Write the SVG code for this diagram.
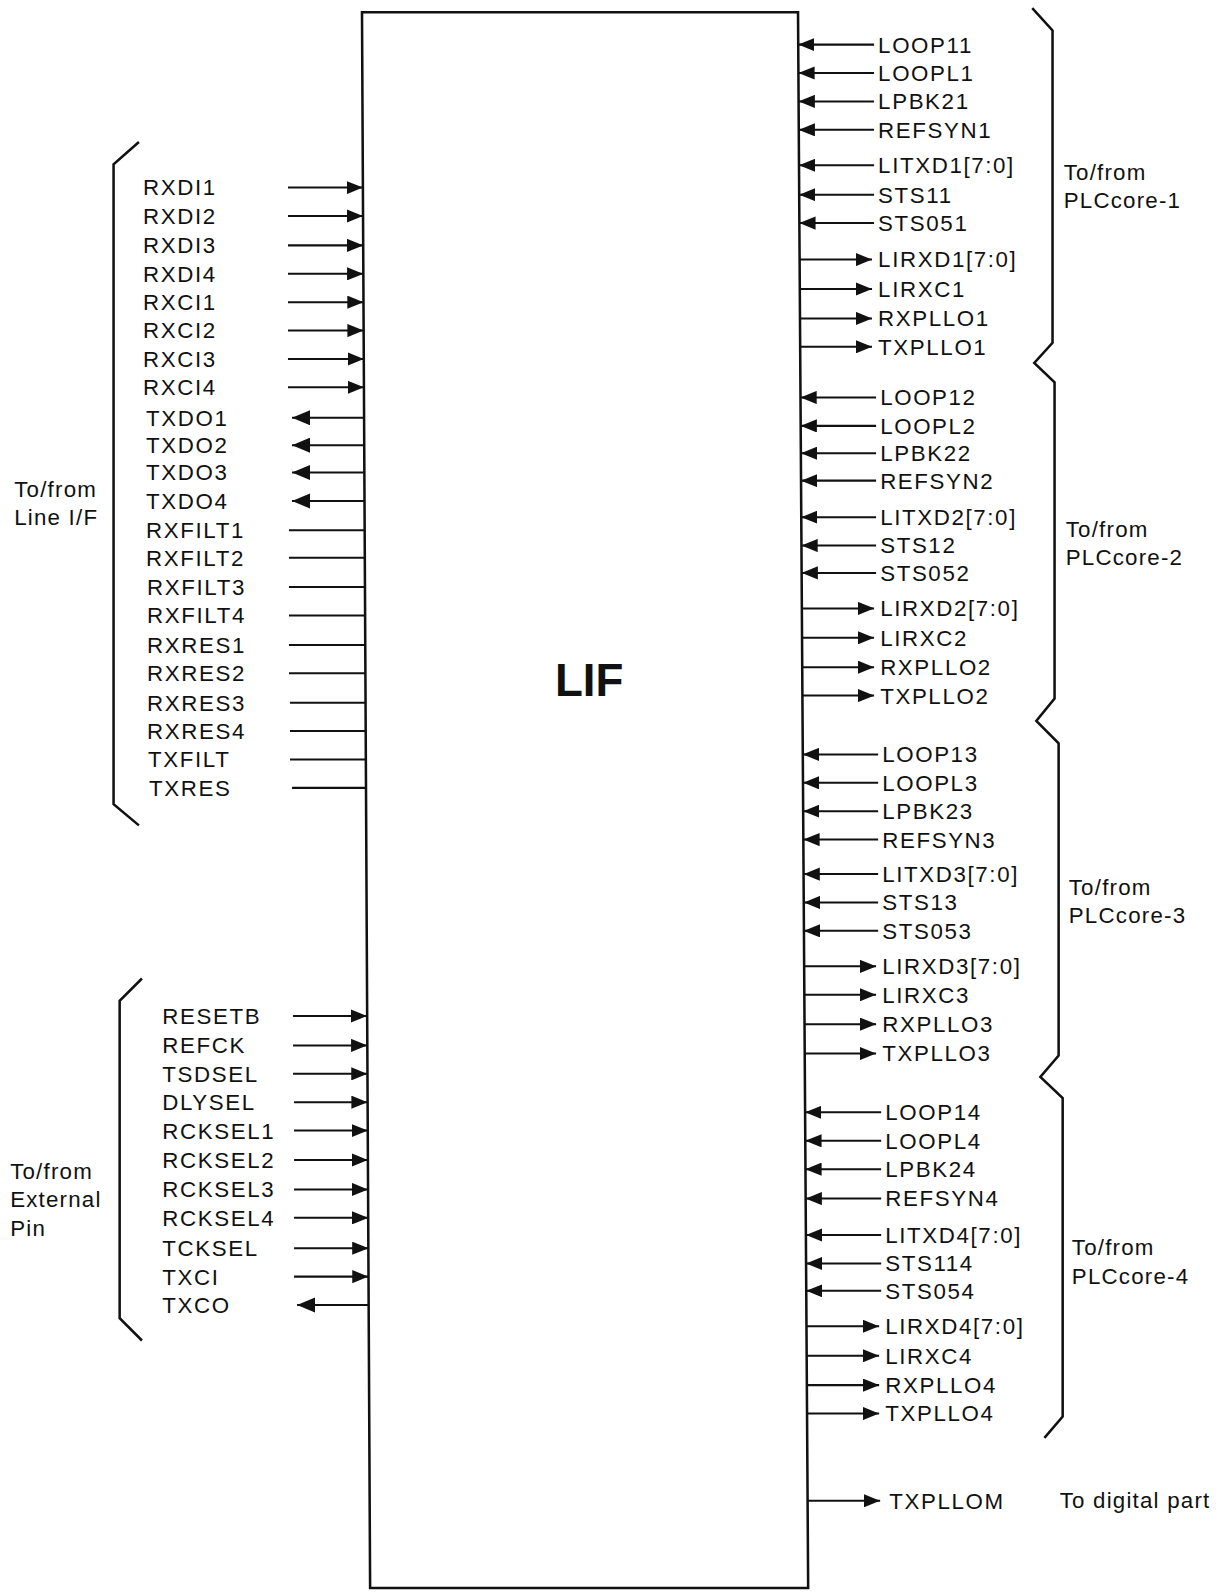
<svg xmlns="http://www.w3.org/2000/svg" width="1226" height="1592" viewBox="0 0 1226 1592">
<style>
.lbl{font-family:"Liberation Sans",Arial,Helvetica,sans-serif;font-size:22px;letter-spacing:1.6px;fill:#111}
.grp{font-family:"Liberation Sans",Arial,Helvetica,sans-serif;font-size:22px;letter-spacing:1.2px;fill:#111}
.title{font-family:"Liberation Sans",Arial,Helvetica,sans-serif;font-size:45px;font-weight:bold;fill:#111}
.box{fill:#fff;stroke:#111;stroke-width:2.5}
.wire{stroke:#111;stroke-width:2;fill:none}
.brk{stroke:#111;stroke-width:2.5;fill:none;stroke-linejoin:miter}
</style>
<defs>
<marker id="ah" viewBox="0 0 16 13" refX="16" refY="6.5" markerWidth="16" markerHeight="13" markerUnits="userSpaceOnUse" orient="auto"><path d="M0,0 L16,6.5 L0,13 z" fill="#111"/></marker>
<marker id="ahb" viewBox="0 0 18 15" refX="18" refY="7.5" markerWidth="18" markerHeight="15" markerUnits="userSpaceOnUse" orient="auto"><path d="M0,0 L18,7.5 L0,15 z" fill="#111"/></marker>
</defs>
<rect width="1226" height="1592" fill="#fff"/>
<g transform="scale(1.014)">
<g id="lif">
<polygon class="box" points="357,12 787,12 797,1566 365,1566"/>
<text class="title" x="581" y="686" text-anchor="middle">LIF</text>
</g>

<g id="connectors">
<line class="wire" x1="284" y1="185" x2="357.9" y2="185" marker-end="url(#ah)"/>
<line class="wire" x1="284" y1="213" x2="358.0" y2="213" marker-end="url(#ah)"/>
<line class="wire" x1="284" y1="242" x2="358.2" y2="242" marker-end="url(#ah)"/>
<line class="wire" x1="284" y1="270" x2="358.3" y2="270" marker-end="url(#ah)"/>
<line class="wire" x1="284" y1="298" x2="358.5" y2="298" marker-end="url(#ah)"/>
<line class="wire" x1="284" y1="326" x2="358.6" y2="326" marker-end="url(#ah)"/>
<line class="wire" x1="284" y1="354" x2="358.8" y2="354" marker-end="url(#ah)"/>
<line class="wire" x1="284" y1="382" x2="358.9" y2="382" marker-end="url(#ah)"/>
<line class="wire" x1="359.1" y1="412" x2="288" y2="412" marker-end="url(#ahb)"/>
<line class="wire" x1="359.2" y1="439" x2="288" y2="439" marker-end="url(#ahb)"/>
<line class="wire" x1="359.3" y1="466" x2="288" y2="466" marker-end="url(#ahb)"/>
<line class="wire" x1="359.5" y1="494" x2="288" y2="494" marker-end="url(#ahb)"/>
<line class="wire" x1="285" y1="523" x2="359.6" y2="523"/>
<line class="wire" x1="285" y1="550" x2="359.8" y2="550"/>
<line class="wire" x1="285" y1="579" x2="359.9" y2="579"/>
<line class="wire" x1="285" y1="607" x2="360.1" y2="607"/>
<line class="wire" x1="285" y1="636" x2="360.2" y2="636"/>
<line class="wire" x1="285" y1="664" x2="360.4" y2="664"/>
<line class="wire" x1="286" y1="693" x2="360.5" y2="693"/>
<line class="wire" x1="286" y1="721" x2="360.7" y2="721"/>
<line class="wire" x1="286" y1="749" x2="360.8" y2="749"/>
<line class="wire" x1="288" y1="777" x2="360.9" y2="777"/>

<line class="wire" x1="289" y1="1002" x2="362.1" y2="1002" marker-end="url(#ah)"/>
<line class="wire" x1="289" y1="1031" x2="362.2" y2="1031" marker-end="url(#ah)"/>
<line class="wire" x1="289" y1="1059" x2="362.4" y2="1059" marker-end="url(#ah)"/>
<line class="wire" x1="290" y1="1087" x2="362.5" y2="1087" marker-end="url(#ah)"/>
<line class="wire" x1="290" y1="1115" x2="362.7" y2="1115" marker-end="url(#ah)"/>
<line class="wire" x1="290" y1="1144" x2="362.8" y2="1144" marker-end="url(#ah)"/>
<line class="wire" x1="290" y1="1173" x2="363.0" y2="1173" marker-end="url(#ah)"/>
<line class="wire" x1="290" y1="1201" x2="363.1" y2="1201" marker-end="url(#ah)"/>
<line class="wire" x1="290" y1="1231" x2="363.3" y2="1231" marker-end="url(#ah)"/>
<line class="wire" x1="290" y1="1259" x2="363.4" y2="1259" marker-end="url(#ah)"/>
<line class="wire" x1="363.6" y1="1287" x2="293" y2="1287" marker-end="url(#ahb)"/>

<line class="wire" x1="862" y1="44" x2="787.2" y2="44" marker-end="url(#ah)"/>
<line class="wire" x1="862" y1="72" x2="787.4" y2="72" marker-end="url(#ah)"/>
<line class="wire" x1="862" y1="100" x2="787.6" y2="100" marker-end="url(#ah)"/>
<line class="wire" x1="862" y1="128" x2="787.7" y2="128" marker-end="url(#ah)"/>
<line class="wire" x1="862" y1="163" x2="788.0" y2="163" marker-end="url(#ah)"/>
<line class="wire" x1="862" y1="192" x2="788.2" y2="192" marker-end="url(#ah)"/>
<line class="wire" x1="862" y1="220" x2="788.3" y2="220" marker-end="url(#ah)"/>
<line class="wire" x1="788.6" y1="256" x2="860" y2="256" marker-end="url(#ah)"/>
<line class="wire" x1="788.8" y1="285" x2="860" y2="285" marker-end="url(#ah)"/>
<line class="wire" x1="788.9" y1="314" x2="860" y2="314" marker-end="url(#ah)"/>
<line class="wire" x1="789.1" y1="342" x2="860" y2="342" marker-end="url(#ah)"/>

<line class="wire" x1="864" y1="392" x2="789.4" y2="392" marker-end="url(#ah)"/>
<line class="wire" x1="864" y1="420" x2="789.6" y2="420" marker-end="url(#ah)"/>
<line class="wire" x1="864" y1="447" x2="789.8" y2="447" marker-end="url(#ah)"/>
<line class="wire" x1="864" y1="474" x2="790.0" y2="474" marker-end="url(#ah)"/>
<line class="wire" x1="864" y1="510" x2="790.2" y2="510" marker-end="url(#ah)"/>
<line class="wire" x1="864" y1="538" x2="790.4" y2="538" marker-end="url(#ah)"/>
<line class="wire" x1="864" y1="565" x2="790.6" y2="565" marker-end="url(#ah)"/>
<line class="wire" x1="790.8" y1="600" x2="862" y2="600" marker-end="url(#ah)"/>
<line class="wire" x1="791.0" y1="629" x2="862" y2="629" marker-end="url(#ah)"/>
<line class="wire" x1="791.2" y1="658" x2="862" y2="658" marker-end="url(#ah)"/>
<line class="wire" x1="791.3" y1="686" x2="862" y2="686" marker-end="url(#ah)"/>

<line class="wire" x1="866" y1="744" x2="791.7" y2="744" marker-end="url(#ah)"/>
<line class="wire" x1="866" y1="772" x2="791.9" y2="772" marker-end="url(#ah)"/>
<line class="wire" x1="866" y1="800" x2="792.1" y2="800" marker-end="url(#ah)"/>
<line class="wire" x1="866" y1="828" x2="792.3" y2="828" marker-end="url(#ah)"/>
<line class="wire" x1="866" y1="862" x2="792.5" y2="862" marker-end="url(#ah)"/>
<line class="wire" x1="866" y1="890" x2="792.7" y2="890" marker-end="url(#ah)"/>
<line class="wire" x1="866" y1="918" x2="792.8" y2="918" marker-end="url(#ah)"/>
<line class="wire" x1="793.1" y1="953" x2="864" y2="953" marker-end="url(#ah)"/>
<line class="wire" x1="793.2" y1="981" x2="864" y2="981" marker-end="url(#ah)"/>
<line class="wire" x1="793.4" y1="1010" x2="864" y2="1010" marker-end="url(#ah)"/>
<line class="wire" x1="793.6" y1="1039" x2="864" y2="1039" marker-end="url(#ah)"/>

<line class="wire" x1="869" y1="1097" x2="794.0" y2="1097" marker-end="url(#ah)"/>
<line class="wire" x1="869" y1="1125" x2="794.2" y2="1125" marker-end="url(#ah)"/>
<line class="wire" x1="869" y1="1153" x2="794.3" y2="1153" marker-end="url(#ah)"/>
<line class="wire" x1="869" y1="1182" x2="794.5" y2="1182" marker-end="url(#ah)"/>
<line class="wire" x1="869" y1="1218" x2="794.8" y2="1218" marker-end="url(#ah)"/>
<line class="wire" x1="869" y1="1246" x2="794.9" y2="1246" marker-end="url(#ah)"/>
<line class="wire" x1="869" y1="1273" x2="795.1" y2="1273" marker-end="url(#ah)"/>
<line class="wire" x1="795.3" y1="1308" x2="867" y2="1308" marker-end="url(#ah)"/>
<line class="wire" x1="795.5" y1="1337" x2="867" y2="1337" marker-end="url(#ah)"/>
<line class="wire" x1="795.7" y1="1366" x2="867" y2="1366" marker-end="url(#ah)"/>
<line class="wire" x1="795.9" y1="1394" x2="867" y2="1394" marker-end="url(#ah)"/>

<line class="wire" x1="796.5" y1="1480" x2="868" y2="1480" marker-end="url(#ah)"/>
</g>

<g id="brackets">
<path class="brk" d="M137,140 L112,162 L112,793 L137,814"/>
<path class="brk" d="M140,965 L118,987 L118,1300 L140,1322"/>
<path class="brk" d="M1018,8 L1038,30 L1038,338 L1020,358 L1040,377 L1040,689 L1022,711 L1044,733 L1044,1041 L1026,1062 L1048,1083 L1048,1397 L1030,1418"/>
</g>

<g id="pins-line-if">
<text class="lbl" x="141" y="192.8">RXDI1</text>
<text class="lbl" x="141" y="220.8">RXDI2</text>
<text class="lbl" x="141" y="249.8">RXDI3</text>
<text class="lbl" x="141" y="277.8">RXDI4</text>
<text class="lbl" x="141" y="305.8">RXCI1</text>
<text class="lbl" x="141" y="333.8">RXCI2</text>
<text class="lbl" x="141" y="361.8">RXCI3</text>
<text class="lbl" x="141" y="389.8">RXCI4</text>
<text class="lbl" x="144" y="419.8">TXDO1</text>
<text class="lbl" x="144" y="446.8">TXDO2</text>
<text class="lbl" x="144" y="473.8">TXDO3</text>
<text class="lbl" x="144" y="501.8">TXDO4</text>
<text class="lbl" x="144" y="530.8">RXFILT1</text>
<text class="lbl" x="144" y="557.8">RXFILT2</text>
<text class="lbl" x="145" y="586.8">RXFILT3</text>
<text class="lbl" x="145" y="614.8">RXFILT4</text>
<text class="lbl" x="145" y="643.8">RXRES1</text>
<text class="lbl" x="145" y="671.8">RXRES2</text>
<text class="lbl" x="145" y="700.8">RXRES3</text>
<text class="lbl" x="145" y="728.8">RXRES4</text>
<text class="lbl" x="146" y="756.8">TXFILT</text>
<text class="lbl" x="147" y="784.8">TXRES</text>
</g>

<g id="pins-external">
<text class="lbl" x="160" y="1009.8">RESETB</text>
<text class="lbl" x="160" y="1038.8">REFCK</text>
<text class="lbl" x="160" y="1066.8">TSDSEL</text>
<text class="lbl" x="160" y="1094.8">DLYSEL</text>
<text class="lbl" x="160" y="1122.8">RCKSEL1</text>
<text class="lbl" x="160" y="1151.8">RCKSEL2</text>
<text class="lbl" x="160" y="1180.8">RCKSEL3</text>
<text class="lbl" x="160" y="1208.8">RCKSEL4</text>
<text class="lbl" x="160" y="1238.8">TCKSEL</text>
<text class="lbl" x="160" y="1266.8">TXCI</text>
<text class="lbl" x="160" y="1294.8">TXCO</text>
</g>

<g id="pins-plccore-1">
<text class="lbl" x="866" y="51.8">LOOP11</text>
<text class="lbl" x="866" y="79.8">LOOPL1</text>
<text class="lbl" x="866" y="107.8">LPBK21</text>
<text class="lbl" x="866" y="135.8">REFSYN1</text>
<text class="lbl" x="866" y="170.8">LITXD1[7:0]</text>
<text class="lbl" x="866" y="199.8">STS11</text>
<text class="lbl" x="866" y="227.8">STS051</text>
<text class="lbl" x="866" y="263.8">LIRXD1[7:0]</text>
<text class="lbl" x="866" y="292.8">LIRXC1</text>
<text class="lbl" x="866" y="321.8">RXPLLO1</text>
<text class="lbl" x="866" y="349.8">TXPLLO1</text>
</g>

<g id="pins-plccore-2">
<text class="lbl" x="868" y="399.8">LOOP12</text>
<text class="lbl" x="868" y="427.8">LOOPL2</text>
<text class="lbl" x="868" y="454.8">LPBK22</text>
<text class="lbl" x="868" y="481.8">REFSYN2</text>
<text class="lbl" x="868" y="517.8">LITXD2[7:0]</text>
<text class="lbl" x="868" y="545.8">STS12</text>
<text class="lbl" x="868" y="572.8">STS052</text>
<text class="lbl" x="868" y="607.8">LIRXD2[7:0]</text>
<text class="lbl" x="868" y="636.8">LIRXC2</text>
<text class="lbl" x="868" y="665.8">RXPLLO2</text>
<text class="lbl" x="868" y="693.8">TXPLLO2</text>
</g>

<g id="pins-plccore-3">
<text class="lbl" x="870" y="751.8">LOOP13</text>
<text class="lbl" x="870" y="779.8">LOOPL3</text>
<text class="lbl" x="870" y="807.8">LPBK23</text>
<text class="lbl" x="870" y="835.8">REFSYN3</text>
<text class="lbl" x="870" y="869.8">LITXD3[7:0]</text>
<text class="lbl" x="870" y="897.8">STS13</text>
<text class="lbl" x="870" y="925.8">STS053</text>
<text class="lbl" x="870" y="960.8">LIRXD3[7:0]</text>
<text class="lbl" x="870" y="988.8">LIRXC3</text>
<text class="lbl" x="870" y="1017.8">RXPLLO3</text>
<text class="lbl" x="870" y="1046.8">TXPLLO3</text>
</g>

<g id="pins-plccore-4">
<text class="lbl" x="873" y="1104.8">LOOP14</text>
<text class="lbl" x="873" y="1132.8">LOOPL4</text>
<text class="lbl" x="873" y="1160.8">LPBK24</text>
<text class="lbl" x="873" y="1189.8">REFSYN4</text>
<text class="lbl" x="873" y="1225.8">LITXD4[7:0]</text>
<text class="lbl" x="873" y="1253.8">STS114</text>
<text class="lbl" x="873" y="1280.8">STS054</text>
<text class="lbl" x="873" y="1315.8">LIRXD4[7:0]</text>
<text class="lbl" x="873" y="1344.8">LIRXC4</text>
<text class="lbl" x="873" y="1373.8">RXPLLO4</text>
<text class="lbl" x="873" y="1401.8">TXPLLO4</text>
</g>

<g id="pin-digital">
<text class="lbl" x="877" y="1487.8">TXPLLOM</text>
</g>

<g id="group-labels">
<text class="grp" x="14" y="489.8">To/from</text>
<text class="grp" x="14" y="517.8">Line I/F</text>
<text class="grp" x="10" y="1162.8">To/from</text>
<text class="grp" x="10" y="1190.8">External</text>
<text class="grp" x="10" y="1218.8">Pin</text>
<text class="grp" x="1049" y="177.8">To/from</text>
<text class="grp" x="1049" y="204.8">PLCcore-1</text>
<text class="grp" x="1051" y="529.8">To/from</text>
<text class="grp" x="1051" y="556.8">PLCcore-2</text>
<text class="grp" x="1054" y="882.8">To/from</text>
<text class="grp" x="1054" y="909.8">PLCcore-3</text>
<text class="grp" x="1057" y="1237.8">To/from</text>
<text class="grp" x="1057" y="1265.8">PLCcore-4</text>
<text class="grp" x="1045" y="1486.8">To digital part</text>
</g>
</g>
</svg>
